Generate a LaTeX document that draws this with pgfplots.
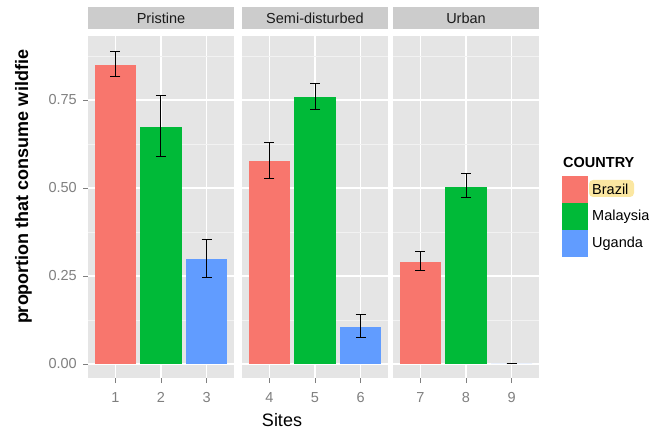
\documentclass[border=0pt]{standalone}
\usepackage{pgfplots}
\pgfplotsset{compat=1.18}
\usepackage{fontspec}
\setmainfont{Liberation Sans}
\definecolor{panelbg}{HTML}{E5E5E5}
\definecolor{stripbg}{HTML}{CCCCCC}
\definecolor{minorgrid}{HTML}{F2F2F2}
\definecolor{tickgray}{HTML}{7F7F7F}
\definecolor{brazil}{HTML}{F8766D}
\definecolor{malaysia}{HTML}{00BA38}
\definecolor{uganda}{HTML}{619CFF}
\definecolor{hilite}{HTML}{FBE7A1}
\definecolor{striptext}{HTML}{1A1A1A}
\newcommand{\tickfont}{\fontsize{14.5bp}{16bp}\selectfont}
\newcommand{\titlefont}{\fontsize{18bp}{20bp}\selectfont}
\pgfplotsset{
  panel/.style={
    scale only axis, width=146bp, height=342bp,
    ymin=-0.0398, ymax=0.9318,
    axis background/.style={fill=panelbg},
    axis line style={draw=none},
    ytick={0,0.25,0.5,0.75}, minor ytick={0.125,0.375,0.625,0.875},
    ymajorgrids, yminorgrids, xmajorgrids,
    major grid style={white, line width=1.2bp},
    minor grid style={minorgrid, line width=0.6bp},
    tick align=outside, major tick length=5bp, minor tick length=0pt,
    tick style={tickgray, line width=0.8bp},
    xtick pos=bottom, ytick pos=left,
    ticklabel style={font=\tickfont, text=tickgray},
    xticklabel style={anchor=north, inner sep=0pt, yshift=-9bp},
    yticklabel style={anchor=east, inner sep=0pt, xshift=-6bp},
    title style={at={(0.5,1)}, anchor=south, yshift=1bp, fill=stripbg,
      minimum width=146bp, minimum height=22bp, inner sep=0pt,
      font=\tickfont, text=striptext},
  },
  bars/.style={ybar, bar width=0.9, bar shift=0pt, draw=none},
  errs/.style={draw=none, mark=none, forget plot,
    error bars/.cd, y dir=both, y explicit, error mark=|,
    error bar style={black, line width=1bp},
    error mark options={black, line width=1bp, mark size=5bp}},
}
\begin{document}
\begin{tikzpicture}
\useasboundingbox (0,0) rectangle (649bp,430bp);
% Panel 1: Pristine
\begin{axis}[panel, at={(88bp,52bp)}, anchor=south west,
  xmin=0.4, xmax=3.6, xtick={1,2,3}, xticklabels={1,2,3},
  yticklabels={0.00,0.25,0.50,0.75}, title={Pristine}]
\addplot[bars, fill=brazil] coordinates {(1,0.849)};
\addplot[bars, fill=malaysia] coordinates {(2,0.673)};
\addplot[bars, fill=uganda] coordinates {(3,0.297)};
\addplot[errs] coordinates {
 (1,0.849) += (0,0.040) -= (0,0.032)
 (2,0.673) += (0,0.089) -= (0,0.083)
 (3,0.297) += (0,0.057) -= (0,0.050)
};
\end{axis}
% Panel 2: Semi-disturbed
\begin{axis}[panel, at={(242bp,52bp)}, anchor=south west,
  xmin=3.4, xmax=6.6, xtick={4,5,6}, xticklabels={4,5,6},
  yticklabels={}, y tick style={draw=none}, title={Semi-disturbed}]
\addplot[bars, fill=brazil] coordinates {(4,0.577)};
\addplot[bars, fill=malaysia] coordinates {(5,0.759)};
\addplot[bars, fill=uganda] coordinates {(6,0.106)};
\addplot[errs] coordinates {
 (4,0.577) += (0,0.051) -= (0,0.051)
 (5,0.759) += (0,0.038) -= (0,0.035)
 (6,0.106) += (0,0.035) -= (0,0.031)
};
\end{axis}
% Panel 3: Urban
\begin{axis}[panel, at={(393bp,52bp)}, anchor=south west,
  xmin=6.4, xmax=9.6, xtick={7,8,9}, xticklabels={7,8,9},
  yticklabels={}, y tick style={draw=none}, title={Urban}]
\addplot[bars, fill=brazil] coordinates {(7,0.290)};
\addplot[bars, fill=malaysia] coordinates {(8,0.504)};
\addplot[bars, fill=uganda] coordinates {(9,0)};
\addplot[errs] coordinates {
 (7,0.290) += (0,0.030) -= (0,0.025)
 (8,0.504) += (0,0.038) -= (0,0.032)
 (9,0) += (0,0) -= (0,0)
};
\end{axis}
% axis titles
\node[font=\titlefont, anchor=base, inner sep=0pt] at (282bp,4bp) {Sites};
\node[font=\titlefont\bfseries, rotate=90, anchor=base] at (28bp,243bp) {proportion that consume wildfie};
% legend
\node[font=\tickfont\bfseries, anchor=base west, inner sep=0pt] at (563bp,262bp) {COUNTRY};
\fill[brazil] (562bp,227bp) rectangle (588bp,254bp);
\fill[malaysia] (562bp,200bp) rectangle (588bp,227bp);
\fill[uganda] (562bp,173bp) rectangle (588bp,200bp);
\fill[hilite, rounded corners=4bp] (589bp,233bp) rectangle (634bp,250bp);
\node[font=\tickfont, anchor=west, inner sep=0pt] at (592bp,240.5bp) {Brazil};
\node[font=\tickfont, anchor=west, inner sep=0pt] at (592bp,213.5bp) {Malaysia};
\node[font=\tickfont, anchor=west, inner sep=0pt] at (592bp,186.5bp) {Uganda};
\end{tikzpicture}
\end{document}
